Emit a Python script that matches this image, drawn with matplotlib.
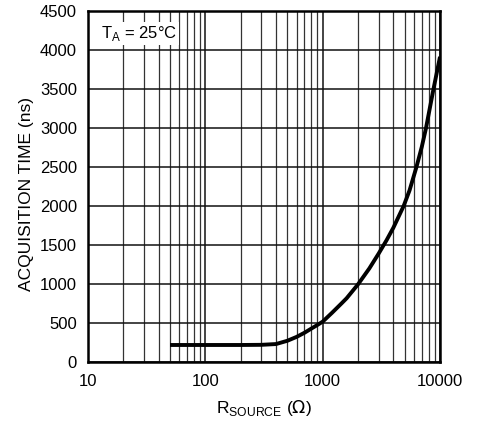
import numpy as np
import matplotlib.pyplot as plt
from matplotlib.ticker import FixedLocator, NullFormatter

plt.rcParams['font.family'] = ['Liberation Sans', 'DejaVu Sans']

# source resistance (ohms) vs acquisition time (ns)
r_source = [50, 100, 200, 300, 400, 500, 600, 700, 800, 900, 1000, 1200,
            1450, 1600, 2000, 2500, 3000, 3500, 4000, 4900, 5500, 6300,
            7000, 7600, 8800, 10000]
acq_time = [218, 218, 218, 220, 230, 272, 322, 375, 428, 474, 517, 630,
            752, 817, 995, 1200, 1390, 1560, 1720, 2000, 2200, 2500,
            2760, 3000, 3500, 3913]

x_ticks = [10, 100, 1000, 10000]
y_ticks = list(range(0, 4501, 500))

fig = plt.figure(figsize=(4.79, 4.22), dpi=100)
ax = fig.add_axes([0.1837, 0.1422, 0.7349, 0.8318])

ax.set_xscale('log')
ax.set_xlim(10, 10000)
ax.set_ylim(0, 4500)

minor = [m * d for d in (10, 100, 1000) for m in range(2, 10)]
ax.xaxis.set_major_locator(FixedLocator(x_ticks))
ax.xaxis.set_minor_locator(FixedLocator(minor))
ax.xaxis.set_minor_formatter(NullFormatter())
ax.set_xticklabels([str(v) for v in x_ticks])
ax.set_yticks(y_ticks)

ax.grid(True, which='major', color='#111111', lw=1.1)
ax.grid(True, which='minor', axis='x', color='#333333', lw=0.9)
ax.tick_params(which='both', length=0, labelsize=12)
ax.tick_params(axis='x', pad=9)
ax.tick_params(axis='y', pad=8)

for s in ax.spines.values():
    s.set_linewidth(1.8)

ax.plot(r_source, acq_time, color='black', lw=2.8, solid_capstyle='butt',
        solid_joinstyle='round', zorder=3)

ax.text(13.0, 4215, r'T$_\mathregular{A}$ = 25°C', fontsize=12, va='center', ha='left',
        bbox=dict(facecolor='white', edgecolor='none', pad=1.5), zorder=4)

ax.set_ylabel('ACQUISITION TIME (ns)', fontsize=12.5)
ax.yaxis.set_label_coords(-0.152, 0.48)
ax.set_xlabel(r'R$_\mathregular{SOURCE}$ ($\Omega$)', fontsize=12.5, labelpad=6)

fig.savefig('out.png', dpi=100)
